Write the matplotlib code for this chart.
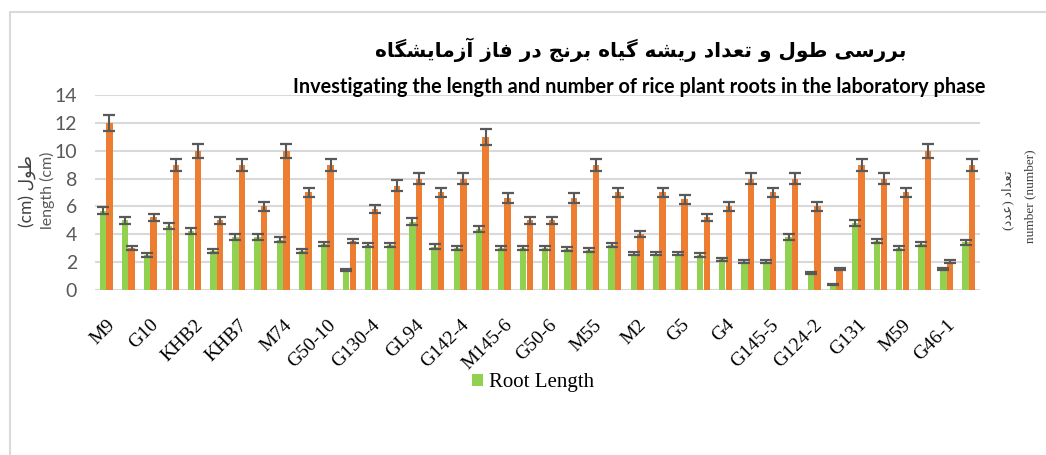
import matplotlib
matplotlib.use("Agg")
import matplotlib.pyplot as plt
import numpy as np
from matplotlib.patches import Patch
from matplotlib.lines import Line2D

# data (40 cultivars, every other one labelled)
tick_labels = ["M9", "G10", "KHB2", "KHB7", "M74", "G50-10", "G130-4", "GL94",
               "G142-4", "M145-6", "G50-6", "M55", "M2", "G5", "G4", "G145-5",
               "G124-2", "G131", "M59", "G46-1"]
root_length = [5.7, 5.0, 2.5, 4.6, 4.2, 2.8, 3.8, 3.8, 3.6, 2.8,
               3.3, 1.4, 3.2, 3.2, 4.9, 3.1, 3.0, 4.4, 3.0, 3.0,
               3.0, 2.9, 2.85, 3.2, 2.6, 2.6, 2.6, 2.5, 2.2, 2.0,
               2.0, 3.8, 1.2, 0.35, 4.8, 3.5, 3.0, 3.3, 1.45, 3.4]
root_number = [12.0, 3.0, 5.2, 9.0, 10.0, 5.0, 9.0, 6.0, 10.0, 7.0,
               9.0, 3.5, 5.8, 7.5, 8.0, 7.0, 8.0, 11.0, 6.6, 5.0,
               5.0, 6.6, 9.0, 7.0, 4.0, 7.0, 6.5, 5.2, 6.0, 8.0,
               7.0, 8.0, 6.0, 1.5, 9.0, 8.0, 7.0, 10.0, 2.0, 9.0]
err_pct = 0.05  # percentage error bars

# --- tiny Persian shaper (presentation forms + right-to-left order) ---
FORMS = {
    '\u0627': ('\uFE8D', '\uFE8E', None, None),
    '\u0622': ('\uFE81', '\uFE82', None, None),
    '\u0628': ('\uFE8F', '\uFE90', '\uFE91', '\uFE92'),
    '\u062A': ('\uFE95', '\uFE96', '\uFE97', '\uFE98'),
    '\u062C': ('\uFE9D', '\uFE9E', '\uFE9F', '\uFEA0'),
    '\u062F': ('\uFEA9', '\uFEAA', None, None),
    '\u0631': ('\uFEAD', '\uFEAE', None, None),
    '\u0632': ('\uFEAF', '\uFEB0', None, None),
    '\u0633': ('\uFEB1', '\uFEB2', '\uFEB3', '\uFEB4'),
    '\u0634': ('\uFEB5', '\uFEB6', '\uFEB7', '\uFEB8'),
    '\u0637': ('\uFEC1', '\uFEC2', '\uFEC3', '\uFEC4'),
    '\u0639': ('\uFEC9', '\uFECA', '\uFECB', '\uFECC'),
    '\u0641': ('\uFED1', '\uFED2', '\uFED3', '\uFED4'),
    '\u0644': ('\uFEDD', '\uFEDE', '\uFEDF', '\uFEE0'),
    '\u0645': ('\uFEE1', '\uFEE2', '\uFEE3', '\uFEE4'),
    '\u0646': ('\uFEE5', '\uFEE6', '\uFEE7', '\uFEE8'),
    '\u0647': ('\uFEE9', '\uFEEA', '\uFEEB', '\uFEEC'),
    '\u0648': ('\uFEED', '\uFEEE', None, None),
    '\u06CC': ('\uFBFC', '\uFBFD', '\uFBFE', '\uFBFF'),
    '\u06AF': ('\uFB92', '\uFB93', '\uFB94', '\uFB95'),
}


def fa(text):
    out = []
    for i, ch in enumerate(text):
        if ch not in FORMS:
            out.append(ch)
            continue
        iso, fin, ini, med = FORMS[ch]
        prev = text[i - 1] if i > 0 else None
        nxt = text[i + 1] if i < len(text) - 1 else None
        jp = prev in FORMS and FORMS[prev][2] is not None
        jn = nxt in FORMS and ini is not None
        if jp and jn:
            out.append(med)
        elif jp:
            out.append(fin)
        elif jn:
            out.append(ini)
        else:
            out.append(iso)
    return ''.join(reversed(out))


green = "#92D050"
orange = "#ED7D31"
grid_c = "#D9D9D9"
err_c = "#595959"

fig = plt.figure(figsize=(10.46, 4.55), dpi=100)
ax = fig.add_axes([95 / 1046, 1 - 290 / 455, 885 / 1046, 195 / 455])

x = np.arange(len(root_length))
w = 0.29
ekw = dict(ecolor=err_c, elinewidth=1.5, capsize=4, capthick=1.6)
ax.bar(x - 0.15, root_length, w, color=green,
       yerr=np.array(root_length) * err_pct, error_kw=ekw, zorder=2)
ax.bar(x + 0.15, root_number, w, color=orange,
       yerr=np.array(root_number) * err_pct, error_kw=ekw, zorder=2)

ax.set_xlim(-0.5, len(x) - 0.5)
ax.set_ylim(-0.03, 14.03)
ax.set_yticks(np.arange(0, 15, 2))
ax.yaxis.grid(True, color=grid_c, lw=1.5)
ax.set_axisbelow(True)
for s in ax.spines.values():
    s.set_visible(False)
ax.tick_params(axis="y", length=0, pad=13, labelsize=14, labelcolor="#595959")
for t in ax.get_yticklabels():
    t.set_fontfamily("Lato")
ax.set_xticks(x[::2])
ax.set_xticklabels(tick_labels, rotation=45, ha="right", va="top",
                   rotation_mode="anchor", fontfamily="Liberation Serif",
                   fontsize=14, color="#000000")
ax.tick_params(axis="x", length=0, pad=19)

# titles
fig.text(641 / 1046, 1 - 50 / 455, fa("بررسی طول و تعداد ریشه گیاه برنج در فاز آزمایشگاه"),
         ha="center", va="center", fontsize=14.5, fontweight="bold",
         fontfamily="DejaVu Sans")
fig.text(639 / 1046, 1 - 87 / 455,
         "Investigating the length and number of rice plant roots in the laboratory phase",
         ha="center", va="center", fontsize=14.3, fontweight="bold", fontfamily="Lato")

# axis titles
fig.text(27 / 1046, 1 - 191 / 455, "(cm) " + fa("طول"), rotation=90,
         ha="center", va="center", fontsize=12.5, color="#404040",
         fontfamily=["Lato", "DejaVu Sans"])
fig.text(47 / 1046, 1 - 190 / 455, "length (cm)", rotation=90,
         ha="center", va="center", fontsize=11.5, color="#595959", fontfamily="Lato")
fig.text(1008 / 1046, 1 - 200 / 455, "(" + fa("عدد") + ") " + fa("تعداد"), rotation=90,
         ha="center", va="center", fontsize=9.5, color="#404040",
         fontfamily=["Liberation Serif", "DejaVu Sans"])
fig.text(1030 / 1046, 1 - 196 / 455, "number (number)", rotation=90,
         ha="center", va="center", fontsize=9.5, color="#404040",
         fontfamily="Liberation Serif")

# legend (only the green series is listed)
fig.legend(handles=[Patch(facecolor=green, label="Root Length")],
           loc="center", bbox_to_anchor=(533 / 1046, 1 - 383 / 455),
           frameon=False, handlelength=0.5, handleheight=0.5, handletextpad=0.3,
           prop={"family": "Liberation Serif", "size": 15})

# chart frame
fig.add_artist(Line2D([9.5 / 1046, 9.5 / 1046, 1], [0, 1 - 12 / 455, 1 - 12 / 455],
                      color=grid_c, lw=1.5, transform=fig.transFigure))

fig.savefig("out.png", dpi=100, facecolor="white")
